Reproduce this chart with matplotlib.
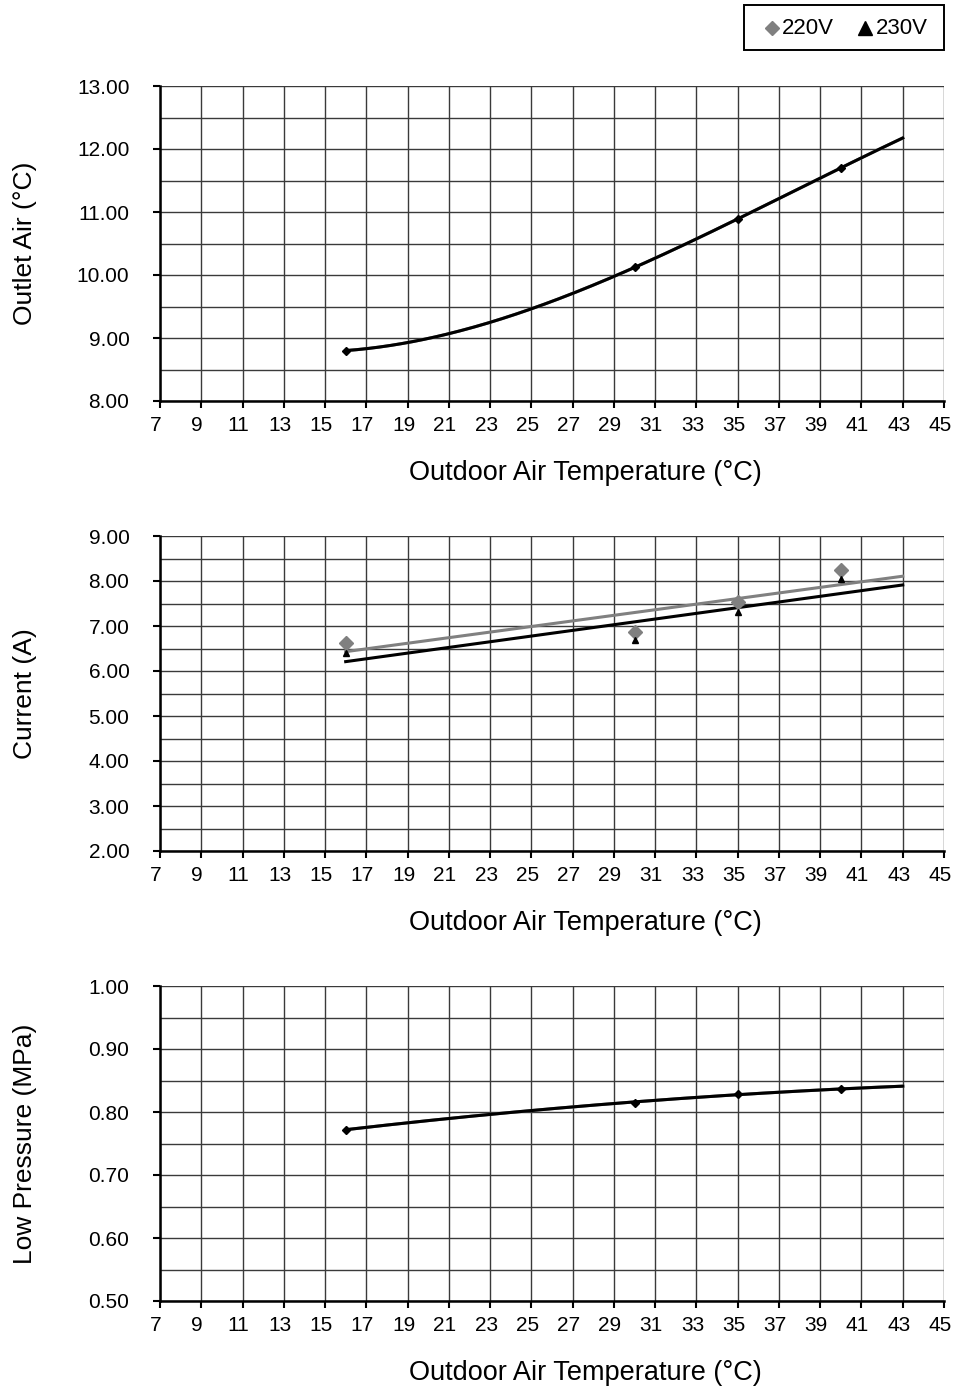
import matplotlib
matplotlib.use("Agg")
import matplotlib.pyplot as plt
import matplotlib.transforms as mtransforms
import numpy as np
from matplotlib.ticker import MultipleLocator, FormatStrFormatter
from matplotlib.lines import Line2D
from matplotlib.patches import Rectangle

plt.rcParams['font.family'] = ['Liberation Sans', 'DejaVu Sans']

# data
temps = [16, 30, 35, 40]
outlet_220 = [8.80, 10.12, 10.89, 11.70]
outlet_230 = [8.80, 10.12, 10.89, 11.70]
current_220 = [6.63, 6.86, 7.53, 8.24]
current_230 = [6.40, 6.68, 7.31, 8.04]
lowp_220 = [0.772, 0.815, 0.829, 0.836]
lowp_230 = [0.772, 0.815, 0.829, 0.836]
x_ticks = list(range(7, 46, 2))
series_names = ['220V', '230V']
trend_end = 43

W, H = 954, 1389
fig = plt.figure(figsize=(W / 100, H / 100), dpi=100)


def px(x, y):
    # pixel coords (from top-left) -> figure fraction
    return x / W, 1 - y / H


def make_ax(top_px, bot_px):
    return fig.add_axes([160 / W, (H - bot_px) / H, 784 / W, (bot_px - top_px) / H])


def style(ax, ylo, yhi, ystep, ylabel):
    ax.set_xlim(7, 45)
    ax.set_ylim(ylo, yhi)
    ax.set_xticks(x_ticks)
    ax.yaxis.set_major_locator(MultipleLocator(ystep))
    ax.yaxis.set_minor_locator(MultipleLocator(ystep / 2))
    ax.grid(True, which='major', color='#3a3a3a', lw=1.0, zorder=0)
    ax.grid(True, which='minor', axis='y', color='#3a3a3a', lw=1.0, zorder=0)
    for s in ['top', 'right']:
        ax.spines[s].set_visible(False)
    for s in ['left', 'bottom']:
        ax.spines[s].set_linewidth(1.8)
        ax.spines[s].set_color('black')
    ax.tick_params(which='major', direction='out', length=5, width=1.5, labelsize=15)
    ax.tick_params(axis='y', pad=17)
    ax.tick_params(axis='x', pad=6)
    ax.tick_params(which='minor', length=0)
    ax.yaxis.set_major_formatter(FormatStrFormatter('%.2f'))
    shift = mtransforms.ScaledTranslation(-4 / 100, 0, fig.dpi_scale_trans)
    for lab in ax.get_xticklabels():
        lab.set_transform(lab.get_transform() + shift)
    ax.set_xlabel('Outdoor Air Temperature (°C)', fontsize=19.5, va='center')
    ax.xaxis.set_label_coords(425 / 784, -72 / 315)
    ax.set_ylabel(ylabel, fontsize=19, va='center')
    ax.yaxis.set_label_coords(-135 / 784, 0.5)
    ax.set_axisbelow(True)


def trend(ax, x, y, deg, color, lw):
    c = np.polyfit(x, y, deg)
    xs = np.linspace(min(x), trend_end, 200)
    ax.plot(xs, np.polyval(c, xs), color=color, lw=lw, zorder=3)


# top: outlet air
ax1 = make_ax(86, 401)
style(ax1, 8, 13, 1, 'Outlet Air (°C)')
trend(ax1, temps, outlet_220, 3, '#808080', 2.2)
trend(ax1, temps, outlet_230, 3, 'black', 2.2)
ax1.plot(temps, outlet_230, 'D', color='black', ms=4, zorder=4)

# middle: current
ax2 = make_ax(536, 851)
style(ax2, 2, 9, 1, 'Current (A)')
trend(ax2, temps, current_220, 1, '#808080', 2.2)
trend(ax2, temps, current_230, 1, 'black', 2.2)
ax2.plot(temps, current_220, 'D', color='#808080', ms=7, zorder=4)
ax2.plot(temps, current_230, '^', color='black', ms=5, zorder=5)

# bottom: low pressure
ax3 = make_ax(986, 1301)
style(ax3, 0.5, 1.0, 0.1, 'Low Pressure (MPa)')
trend(ax3, temps, lowp_220, 2, '#808080', 2.2)
trend(ax3, temps, lowp_230, 2, 'black', 2.2)
ax3.plot(temps, lowp_230, 'D', color='black', ms=4, zorder=4)

# legend box top right (drawn by hand to match the frame)
x0, y0 = px(744, 50)
x1, y1 = px(944, 5)
fig.add_artist(Rectangle((x0, y0), x1 - x0, y1 - y0, transform=fig.transFigure,
                         facecolor='white', edgecolor='black', lw=1.4))
for (mx, tx), mk, col, ms, name in zip([(772, 782), (865, 876)], ['D', '^'],
                                       ['#808080', 'black'], [7, 9.5], series_names):
    fig.add_artist(Line2D([px(mx, 0)[0]], [px(0, 28)[1]], transform=fig.transFigure,
                          marker=mk, color=col, ms=ms, ls='none'))
    fig.text(*px(tx, 28.5), name, fontsize=16, ha='left', va='center')

fig.savefig('out.png', dpi=100)
